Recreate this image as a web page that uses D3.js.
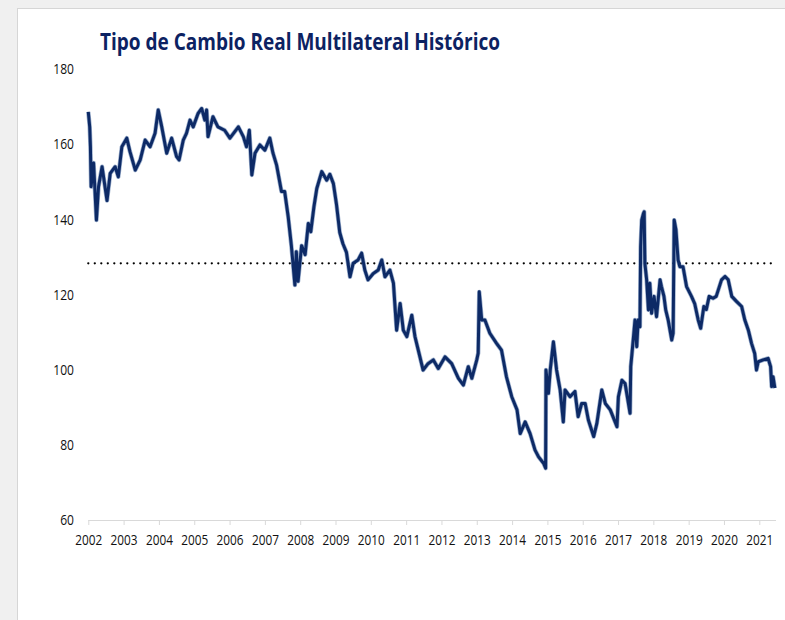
<!DOCTYPE html>
<html>
<head>
<meta charset="utf-8">
<script src="https://cdn.jsdelivr.net/npm/d3@7"></script>
<style>
  body { margin: 0; background: #f0f0f0; }
  svg { display: block; }
</style>
</head>
<body>
<div class="graph_wrapper"></div>
<script>
var fechas = [
  2002.00, 2002.04, 2002.06, 2002.08, 2002.15, 2002.23, 2002.29, 2002.39, 2002.53, 2002.62,
  2002.76, 2002.85, 2002.95, 2003.09, 2003.18, 2003.33, 2003.47, 2003.61, 2003.75, 2003.89,
  2003.98, 2004.08, 2004.22, 2004.36, 2004.50, 2004.57, 2004.69, 2004.78, 2004.88, 2004.97,
  2005.11, 2005.21, 2005.30, 2005.35, 2005.39, 2005.53, 2005.67, 2005.86, 2006.01, 2006.25,
  2006.39, 2006.48, 2006.56, 2006.63, 2006.72, 2006.86, 2007.00, 2007.14, 2007.23, 2007.33,
  2007.47, 2007.56, 2007.66, 2007.75, 2007.85, 2007.89, 2007.94, 2008.04, 2008.14, 2008.23,
  2008.30, 2008.39, 2008.47, 2008.61, 2008.75, 2008.84, 2008.94, 2009.03, 2009.12, 2009.21,
  2009.31, 2009.41, 2009.50, 2009.64, 2009.74, 2009.83, 2009.92, 2010.07, 2010.21, 2010.31,
  2010.40, 2010.54, 2010.64, 2010.73, 2010.83, 2010.92, 2011.02, 2011.16, 2011.25, 2011.39,
  2011.48, 2011.62, 2011.77, 2011.91, 2012.10, 2012.29, 2012.48, 2012.62, 2012.76, 2012.86,
  2013.00, 2013.04, 2013.07, 2013.14, 2013.23, 2013.37, 2013.56, 2013.70, 2013.84, 2013.99,
  2014.14, 2014.23, 2014.37, 2014.51, 2014.65, 2014.75, 2014.89, 2014.95, 2014.96, 2015.03,
  2015.08, 2015.17, 2015.26, 2015.36, 2015.45, 2015.50, 2015.64, 2015.78, 2015.87, 2015.97,
  2016.07, 2016.16, 2016.31, 2016.40, 2016.54, 2016.64, 2016.78, 2016.97, 2017.01, 2017.11,
  2017.20, 2017.34, 2017.36, 2017.43, 2017.48, 2017.53, 2017.57, 2017.62, 2017.64, 2017.67,
  2017.72, 2017.74, 2017.76, 2017.81, 2017.86, 2017.90, 2017.95, 2018.02, 2018.09, 2018.19,
  2018.23, 2018.30, 2018.35, 2018.42, 2018.52, 2018.56, 2018.59, 2018.64, 2018.70, 2018.75,
  2018.84, 2018.94, 2019.08, 2019.17, 2019.27, 2019.34, 2019.43, 2019.50, 2019.58, 2019.69,
  2019.78, 2019.93, 2020.03, 2020.12, 2020.22, 2020.36, 2020.50, 2020.59, 2020.69, 2020.78,
  2020.87, 2020.92, 2020.97, 2021.11, 2021.25, 2021.32, 2021.35, 2021.39, 2021.44
];

var valores = [
  168.6, 164.6, 159.3, 148.7, 155.0, 139.8, 148.7, 154.0, 145.0, 152.2,
  154.0, 151.3, 159.3, 161.6, 158.0, 153.1, 155.8, 161.1, 159.3, 162.9,
  169.1, 164.6, 157.6, 161.6, 156.7, 155.8, 161.1, 162.9, 166.4, 164.6,
  168.2, 169.5, 166.4, 169.1, 162.0, 167.3, 164.6, 163.7, 161.6, 164.6,
  162.0, 159.3, 163.7, 151.8, 157.6, 159.8, 158.4, 161.6, 157.6, 154.5,
  147.4, 147.4, 140.7, 133.0, 122.5, 131.4, 123.5, 133.0, 130.6, 138.9,
  136.7, 143.4, 148.2, 152.7, 150.4, 152.0, 149.5, 143.8, 136.5, 133.5,
  131.2, 124.7, 128.3, 129.2, 131.0, 126.5, 123.9, 125.6, 126.5, 129.2,
  124.7, 126.5, 123.0, 110.5, 117.6, 110.5, 108.8, 114.5, 108.8, 103.4,
  99.9, 101.6, 102.6, 100.3, 103.4, 101.6, 97.7, 95.9, 100.8, 97.7,
  102.6, 104.4, 120.7, 113.2, 113.2, 109.7, 107.0, 105.2, 98.1, 92.8,
  89.3, 83.0, 86.1, 83.0, 78.6, 76.8, 75.1, 73.8, 99.9, 93.7,
  99.9, 107.4, 99.9, 94.6, 86.1, 94.6, 92.8, 94.2, 87.5, 91.0,
  91.0, 86.6, 82.2, 85.7, 94.6, 91.0, 89.3, 84.8, 92.8, 97.2,
  96.3, 88.4, 100.8, 107.9, 113.2, 106.1, 113.2, 111.4, 132.7, 139.8,
  141.6, 142.0, 128.3, 123.9, 115.9, 123.0, 115.0, 119.5, 114.1, 123.9,
  122.1, 119.5, 115.9, 113.2, 107.9, 109.7, 139.8, 137.2, 129.2, 127.4,
  127.4, 122.1, 119.5, 117.6, 113.2, 111.0, 116.8, 116.0, 119.5, 119.0,
  119.5, 123.9, 124.8, 123.9, 119.5, 118.1, 116.8, 113.2, 110.5, 107.0,
  104.3, 99.9, 102.1, 102.6, 103.0, 100.8, 95.5, 98.1, 95.1
];

var promedio = [128.3];
var anios = d3.range(2002, 2022);
var ticksY = [60, 80, 100, 120, 140, 160, 180];
var titulo = 'Tipo de Cambio Real Multilateral Histórico';

var width = 785;
var height = 620;
var fontTxt = '"Open Sans", "Liberation Sans", sans-serif';

var dataset = fechas.map(function (f, i) {
  return { fecha: f, valor: valores[i] };
});

var svg = d3.select('.graph_wrapper').append('svg')
  .attr('width', width).attr('height', height);

// marco gris y panel blanco
svg.append('rect').attr('x', 0).attr('y', 0).attr('width', width).attr('height', height).attr('fill', '#f0f0f0');
svg.append('rect').attr('x', 17.5).attr('y', 8.5).attr('width', width).attr('height', height)
  .attr('fill', '#ffffff').attr('stroke', '#d6d6d6').attr('stroke-width', 1);

var x = d3.scaleLinear().domain([2002, 2021]).range([88.3, 759.3]);
var y = d3.scaleLinear().domain([60, 180]).range([520, 69]);

svg.append('text')
  .attr('x', 100).attr('y', 50)
  .attr('font-family', fontTxt)
  .attr('font-weight', 'bold')
  .attr('font-size', 23)
  .attr('fill', '#0c2262')
  .attr('textLength', 400)
  .attr('lengthAdjust', 'spacingAndGlyphs')
  .text(titulo);

// eje x
var xAxis = svg.append('g')
  .attr('transform', 'translate(0,' + y(60) + ')')
  .call(d3.axisBottom(x).tickValues(anios).tickFormat(d3.format('d')).tickSize(5).tickSizeOuter(0).tickPadding(9));
xAxis.select('.domain').attr('d', 'M' + x(2002) + ',0.5H776').attr('stroke', '#d9d9d9');
xAxis.selectAll('.tick line').attr('stroke', '#d9d9d9');
xAxis.selectAll('.tick text')
  .attr('font-family', fontTxt).attr('font-size', 15).attr('fill', '#111')
  .attr('textLength', 27).attr('lengthAdjust', 'spacingAndGlyphs');

// eje y (solo etiquetas)
var yAxis = svg.append('g')
  .attr('transform', 'translate(74,0)')
  .call(d3.axisLeft(y).tickValues(ticksY).tickSize(0).tickPadding(0));
yAxis.select('.domain').remove();
yAxis.selectAll('.tick text')
  .attr('font-family', fontTxt).attr('font-size', 15).attr('fill', '#111')
  .attr('textLength', function (d) { return String(d).length * 6.9; })
  .attr('lengthAdjust', 'spacingAndGlyphs');

// linea de promedio punteada
svg.selectAll('.promedio').data(promedio).enter().append('line')
  .attr('class', 'promedio')
  .attr('x1', x(2002)).attr('x2', 774)
  .attr('y1', function (d) { return y(d); })
  .attr('y2', function (d) { return y(d); })
  .attr('stroke', '#000')
  .attr('stroke-width', 2.3)
  .attr('stroke-linecap', 'round')
  .attr('stroke-dasharray', '0,6.5');

var line = d3.line()
  .x(function (d) { return x(d.fecha); })
  .y(function (d) { return y(d.valor); });

svg.append('path').datum(dataset)
  .attr('d', line)
  .attr('fill', 'none')
  .attr('stroke', '#4a6da3')
  .attr('stroke-width', 4.4)
  .attr('stroke-linejoin', 'round')
  .attr('opacity', 0.55);

svg.append('path').datum(dataset)
  .attr('d', line)
  .attr('fill', 'none')
  .attr('stroke', '#0d2a66')
  .attr('stroke-width', 3)
  .attr('stroke-linejoin', 'round');
</script>
</body>
</html>
